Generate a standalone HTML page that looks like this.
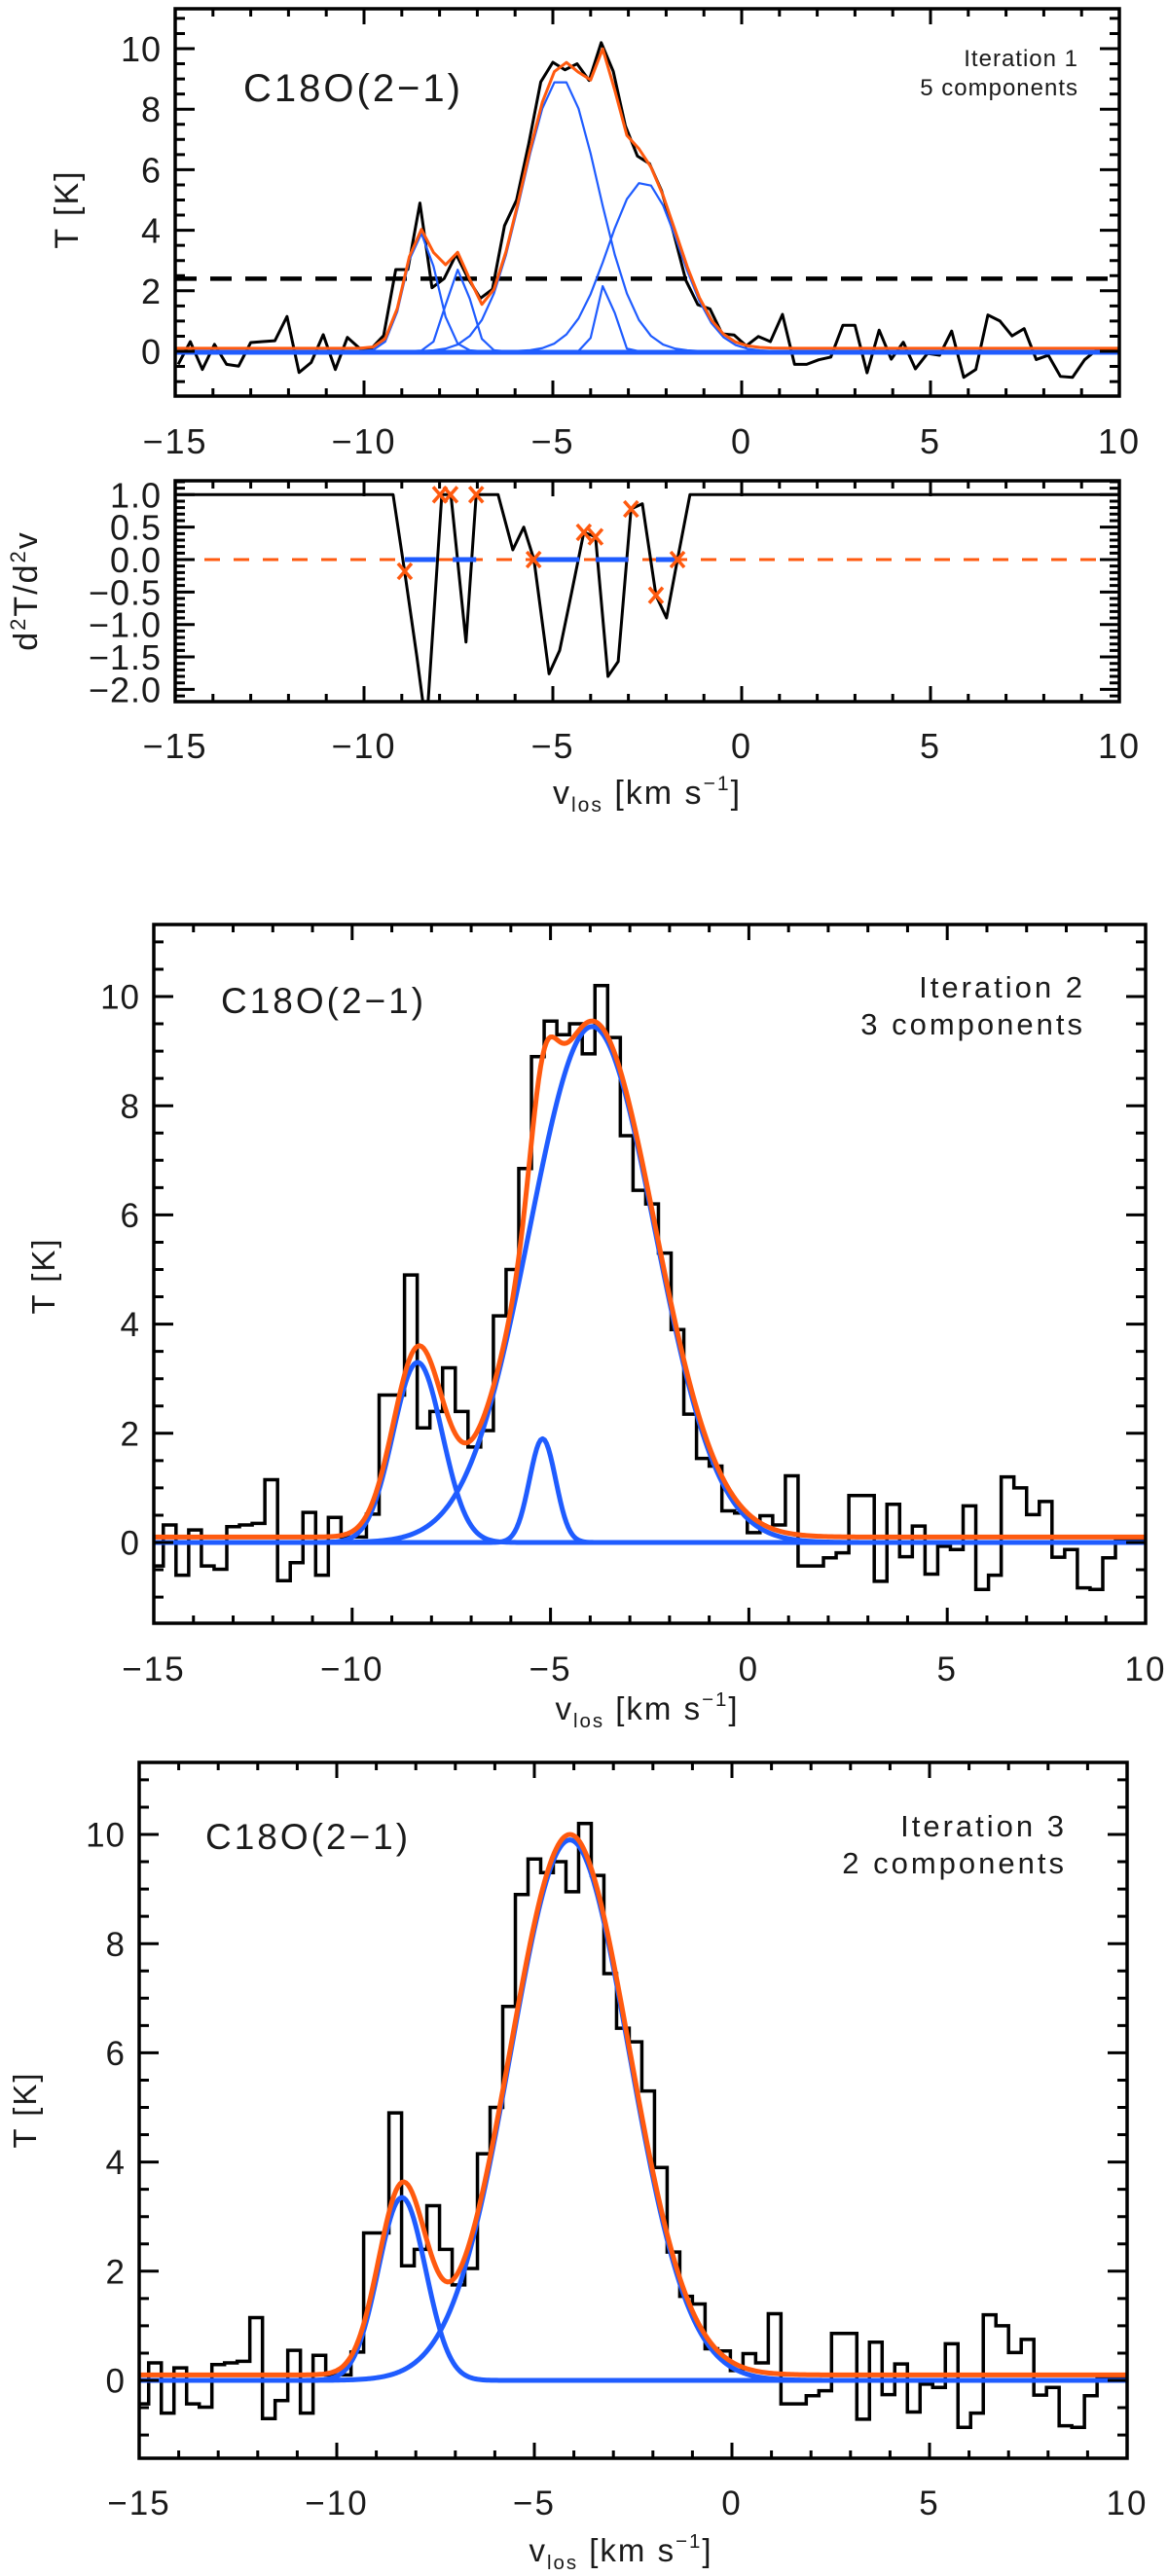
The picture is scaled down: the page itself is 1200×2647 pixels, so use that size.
<!DOCTYPE html>
<html><head><meta charset="utf-8"><style>
html,body{margin:0;padding:0;background:#fff}
svg{display:block}
text{font-family:"Liberation Sans",sans-serif;fill:#1a1a1a}
</style></head><body>
<svg id="fig" width="1200" height="2647" viewBox="0 0 1200 2647" xmlns="http://www.w3.org/2000/svg"></svg>
<script>
// ---- spectrum data (bins of width 0.32 km/s starting at -15.08) ----
const binStart = -15.08;
const binWidth = 0.32;
const spectrum = [-0.43,0.32,-0.6,0.23,-0.43,-0.49,0.29,0.32,0.35,1.15,-0.7,-0.37,0.55,-0.6,0.46,0.1,0.1,0.52,2.7,2.7,4.9,2.1,2.4,3.2,2.4,1.75,2.05,4.15,5.0,6.85,8.9,9.55,9.3,9.5,8.95,10.2,9.25,7.45,6.45,6.2,5.3,3.9,2.35,1.54,1.40,0.58,0.54,0.18,0.49,0.32,1.22,-0.43,-0.43,-0.28,-0.19,0.86,0.86,-0.71,0.7,-0.26,0.3,-0.58,-0.07,-0.13,0.67,-0.86,-0.6,1.2,1.0,0.51,0.75,-0.27,-0.13,-0.83,-0.86,-0.28,0.05,0.05,0.05];
// ---- gaussian components ----
const it1Amp = [3.9,2.7,9.0,2.3,5.6];
const it1Cen = [-8.5,-7.5,-4.8,-3.6,-2.6];
const it1Sig = [0.42,0.32,1.0,0.22,0.95];
const it2Amp = [3.3,9.45,1.9];
const it2Cen = [-8.35,-3.95,-5.2];
const it2Sig = [0.62,1.58,0.33];
const it3Amp = [3.35,9.9];
const it3Cen = [-8.35,-4.1];
const it3Sig = [0.6,1.5];
const fitOffset = 0.1;
const threshold = 2.4;
// ---- second derivative panel ----
const dVel = [-15,-9.23,-8.92,-8.6,-8.35,-7.94,-7.7,-7.3,-7.03,-6.45,-6.06,-5.77,-5.5,-5.1,-4.82,-4.5,-4.18,-3.87,-3.54,-3.27,-2.93,-2.63,-2.27,-1.99,-1.7,-1.37,10];
const dVal = [1,1,-0.2,-1.5,-2.6,1,1,-1.27,1,1,0.15,0.5,0,-1.76,-1.4,-0.5,0.42,0.35,-1.8,-1.57,0.78,0.86,-0.55,-0.9,0,1,1];
const markVel = [-8.92,-7.99,-7.71,-7.03,-5.51,-4.18,-3.87,-2.93,-2.27,-1.7];
const markVal = [-0.18,1,1,1,0,0.42,0.35,0.78,-0.55,0];
const segStart = [-8.92,-7.65,-5.51,-3.87,-2.27];
const segEnd = [-8.1,-7.03,-4.3,-3.0,-1.7];
const xTicks = [-15,-10,-5,0,5,10];
const yTicksT = [0,2,4,6,8,10];
const yTicksD = [-2.0,-1.5,-1.0,-0.5,0.0,0.5,1.0];

const NS = "http://www.w3.org/2000/svg";
const svg = document.getElementById('fig');
const BLUE = "#1f5cff", ORANGE = "#ff5a0f";
function mk(tag, attrs, parent){ const e=document.createElementNS(NS,tag); for(const k in attrs) e.setAttribute(k,attrs[k]); (parent||svg).appendChild(e); return e; }
function gauss(v,A,C,S){ let s=0; for(let i=0;i<A.length;i++) s+=A[i]*Math.exp(-(v-C[i])*(v-C[i])/(2*S[i]*S[i])); return s; }

function makePanel(p){
  const g = mk('g',{});
  
  
  p.X = v => p.x0 + (v - (-15)) / 25 * (p.x1 - p.x0);
  p.Y = v => p.yz - p.k * v;
  const cid = 'clip-' + p.name;
  const cp = mk('clipPath',{id:cid}, g);
  mk('rect',{x:p.x0,y:p.t,width:p.x1-p.x0,height:p.b-p.t}, cp);
  p.plot = mk('g',{'clip-path':'url(#'+cid+')'}, g);
  p.g = g;
  return p;
}
function drawFrame(p, yMin, yMax, major, minor, fmt, labelFs){
  const g = p.g;
  const fr = mk('rect',{x:p.x0,y:p.t,width:p.x1-p.x0,height:p.b-p.t,fill:'none',stroke:'#000','stroke-width':3.5}, g);
  
  
  let d='';
  for(let v=-15; v<=10.001; v+=1){
    const x=p.X(v); const L=(Math.abs(v%5)<1e-6)?16:8;
    d+=`M${x},${p.b}v${-L}M${x},${p.t}v${L}`;
  }
  const nMin=Math.round((yMax-yMin)/minor);
  for(let i=0;i<=nMin+2;i++){
    const v=Math.ceil(yMin/minor)*minor+i*minor; if(v>yMax) break;
    const y=p.Y(v); const isMaj=Math.abs(v/major-Math.round(v/major))<1e-6; const L=isMaj?20:10;
    d+=`M${p.x0},${y}h${L}M${p.x1},${y}h${-L}`;
  }
  mk('path',{d:d,stroke:'#000','stroke-width':3,fill:'none'}, g);
  xTicks.forEach(v=>{
    const t=mk('text',{x:p.X(v),y:p.xl,'text-anchor':'middle','font-size':labelFs,'letter-spacing':2}, g);
    t.textContent=(v<0?'\u2212'+(-v):''+v);
    
    
  });
  p.yt.forEach(v=>{
    const t=mk('text',{x:p.x0-14,y:p.Y(v)+labelFs*0.36,'text-anchor':'end','font-size':labelFs,'letter-spacing':1}, g);
    t.textContent=fmt(v);
    
    
  });
}
function histPath(p){
  let d=''; for(let i=0;i<spectrum.length;i++){
    const xa=p.X(binStart+i*binWidth), xb=p.X(binStart+(i+1)*binWidth), y=p.Y(spectrum[i]);
    d+=(i===0?'M'+xa+','+y:'V'+y)+'H'+xb;
  } return d;
}
function linePath(p){
  let d=''; for(let i=0;i<spectrum.length;i++){
    const x=p.X(binStart+(i+0.5)*binWidth), y=p.Y(spectrum[i]); d+=(i===0?'M':'L')+x+','+y;
  } return d;
}
function curve(p, f, step){
  let d=''; let first=true; for(let v=-15.2; v<=10.2; v+=step){ d+=(first?'M':'L')+p.X(v)+','+p.Y(f(v)); first=false; } return d;
}
function addText(p, txt, x, y, fs, anchor, name){
  const t=mk('text',{x:x,y:y,'font-size':fs,'text-anchor':anchor||'start','letter-spacing':fs>30?3:1}, p.g);
  t.textContent=txt;
  
  
  return t;
}
function xlabel(p, cx, cy, fs){
  const t=mk('text',{x:cx,y:cy,'font-size':fs,'text-anchor':'middle','letter-spacing':2}, p.g);
  t.innerHTML='v<tspan font-size="'+(fs*0.62)+'" dy="8">los</tspan><tspan dy="-8"> [km s</tspan><tspan font-size="'+(fs*0.62)+'" dy="-14">\u22121</tspan><tspan dy="14">]</tspan>';
  
  
}
function ylabel(p, cx, cy, fs, html){
  const t=mk('text',{x:0,y:0,'font-size':fs,'text-anchor':'middle','letter-spacing':2,transform:`translate(${cx},${cy}) rotate(-90)`}, p.g);
  t.innerHTML=html;
  
  
}
function components(p, A, C, S, w, step){
  for(let i=0;i<A.length;i++){
    const pa=mk('path',{d:curve(p,v=>A[i]*Math.exp(-(v-C[i])*(v-C[i])/(2*S[i]*S[i])),step),stroke:BLUE,'stroke-width':w,fill:'none','stroke-linejoin':'round'}, p.plot);
    
    
  }
}

// ===== Panel 1 =====
const p1 = makePanel({name:'panel-iteration-1',x0:180,x1:1150,t:9,b:407,yz:361,k:31.1,xl:466,yt:yTicksT});
{
  const h=mk('path',{d:linePath(p1),stroke:'#000','stroke-width':3,fill:'none','stroke-linejoin':'round'}, p1.plot);
  
  
  const th=mk('line',{x1:p1.x0,x2:p1.x1,y1:p1.Y(threshold),y2:p1.Y(threshold),stroke:'#000','stroke-width':4.5,'stroke-dasharray':'22 14'}, p1.plot);
  
  
  components(p1,it1Amp,it1Cen,it1Sig,2.2,binWidth);
  const bl=mk('line',{x1:p1.x0,x2:p1.x1,y1:p1.Y(0)+1,y2:p1.Y(0)+1,stroke:BLUE,'stroke-width':5}, p1.plot);
  
  
  const sum=mk('path',{d:curve(p1,v=>gauss(v,it1Amp,it1Cen,it1Sig)+fitOffset,binWidth),stroke:ORANGE,'stroke-width':3,fill:'none','stroke-linejoin':'round'}, p1.plot);
  
  
  drawFrame(p1,-1.48,11.32,2,0.5,v=>''+v,36);
  addText(p1,'C18O(2\u22121)',250,104,40,'start','line-label');
  addText(p1,'Iteration 1',1108,68,24,'end','iteration-label');
  addText(p1,'5 components',1108,98,24,'end','components-label');
  ylabel(p1,80,215,34,'T  [K]');
}
// ===== Panel 2 =====
const p2 = makePanel({name:'panel-second-derivative',x0:180,x1:1150,t:494,b:721,yz:575,k:66.7,xl:779,yt:yTicksD});
{
  const z=mk('line',{x1:p2.x0,x2:p2.x1,y1:p2.Y(0),y2:p2.Y(0),stroke:ORANGE,'stroke-width':3,'stroke-dasharray':'16 14'}, p2.plot);
  
  
  let d=''; dVel.forEach((v,i)=>{ d+=(i?'L':'M')+p2.X(v)+','+p2.Y(dVal[i]); });
  const dl=mk('path',{d:d,stroke:'#000','stroke-width':3,fill:'none','stroke-linejoin':'round'}, p2.plot);
  
  
  segStart.forEach((s,i)=>{
    const l=mk('line',{x1:p2.X(s),x2:p2.X(segEnd[i]),y1:p2.Y(0),y2:p2.Y(0),stroke:BLUE,'stroke-width':5}, p2.plot);
    
    
  });
  markVel.forEach((v,i)=>{
    const x=p2.X(v), y=p2.Y(markVal[i]);
    const m=mk('path',{d:`M${x-7},${y-8}L${x+7},${y+8}M${x-7},${y+8}L${x+7},${y-8}`,stroke:ORANGE,'stroke-width':3.5}, p2.g);
    
    
  });
  drawFrame(p2,-2.19,1.21,0.5,0.1,v=>(v<0?'\u2212':'')+Math.abs(v).toFixed(1),36);
  ylabel(p2,38,607,34,'d<tspan font-size="22" dy="-12">2</tspan><tspan dy="12">T/d</tspan><tspan font-size="22" dy="-12">2</tspan><tspan dy="12">v</tspan>');
  xlabel(p2,665,826,34);
}
// ===== Panel 3 =====
const p3 = makePanel({name:'panel-iteration-2',x0:158,x1:1177,t:950,b:1668,yz:1585,k:56.1,xl:1727,yt:yTicksT});
{
  const h=mk('path',{d:histPath(p3),stroke:'#000','stroke-width':3.5,fill:'none'}, p3.plot);
  
  
  components(p3,it2Amp,it2Cen,it2Sig,5,0.05);
  const sum=mk('path',{d:curve(p3,v=>gauss(v,it2Amp,it2Cen,it2Sig)+fitOffset,0.05),stroke:ORANGE,'stroke-width':5,fill:'none'}, p3.plot);
  
  
  drawFrame(p3,-1.48,11.32,2,0.5,v=>''+v,35);
  addText(p3,'C18O(2\u22121)',227,1041,37,'start','line-label');
  addText(p3,'Iteration 2',1115,1025,31,'end','iteration-label');
  addText(p3,'3 components',1115,1063,31,'end','components-label');
  ylabel(p3,56,1311,33,'T  [K]');
  xlabel(p3,665,1767,33);
}
// ===== Panel 4 =====
const p4 = makePanel({name:'panel-iteration-3',x0:143,x1:1158,t:1811,b:2526,yz:2446,k:56.1,xl:2584,yt:yTicksT});
{
  const h=mk('path',{d:histPath(p4),stroke:'#000','stroke-width':3.5,fill:'none'}, p4.plot);
  
  
  components(p4,it3Amp,it3Cen,it3Sig,5,0.05);
  const sum=mk('path',{d:curve(p4,v=>gauss(v,it3Amp,it3Cen,it3Sig)+fitOffset,0.05),stroke:ORANGE,'stroke-width':5,fill:'none'}, p4.plot);
  
  
  drawFrame(p4,-1.48,11.32,2,0.5,v=>''+v,35);
  addText(p4,'C18O(2\u22121)',211,1900,37,'start','line-label');
  addText(p4,'Iteration 3',1096,1887,31,'end','iteration-label');
  addText(p4,'2 components',1096,1925,31,'end','components-label');
  ylabel(p4,37,2168,33,'T  [K]');
  xlabel(p4,638,2632,33);
}
</script>
</body></html>
